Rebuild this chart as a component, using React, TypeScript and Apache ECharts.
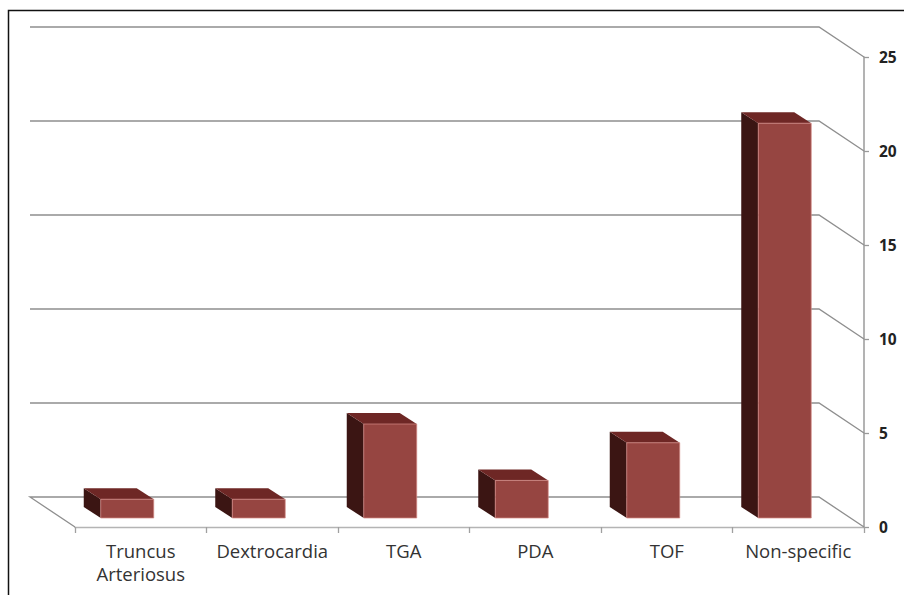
import React, { useEffect, useRef } from "react";
import * as echarts from "echarts";

// Congenital heart defect categories and case counts
const categories = ["Truncus\nArteriosus", "Dextrocardia", "TGA", "PDA", "TOF", "Non-specific"];
const cases = [1, 1, 5, 2, 4, 21];
const yTicks = [0, 5, 10, 15, 20, 25];

// Perspective offsets for the pseudo-3D floor, walls and columns (px)
const WALL_DX = 45;
const WALL_DY = 30;
const BAR_DX = 17;
const BAR_DY = 11;
const BAR_FRONT_DX = 13.5;
const BAR_FRONT_DY = 9;

const FRONT = "#964541";
const TOP = "#6e2725";
const SIDE = "#3b1513";
const GRID = "#8e8e8e";

export default function App() {
  const ref = useRef<HTMLDivElement>(null);

  useEffect(() => {
    if (!ref.current) return;
    const chart = echarts.init(ref.current, undefined, { renderer: "svg" });

    const renderGrid = (params: any, api: any) => {
      const cs = params.coordSys;
      const v = api.value(1);
      const y = api.coord([0, v])[1];
      const left = cs.x;
      const right = cs.x + cs.width;
      const pts: number[][] =
        v === 0
          ? [
              [left, y],
              [left - WALL_DX, y - WALL_DY],
              [right - WALL_DX, y - WALL_DY],
              [right, y],
            ]
          : [
              [left - WALL_DX, y - WALL_DY],
              [right - WALL_DX, y - WALL_DY],
              [right, y],
            ];
      return {
        type: "polyline",
        shape: { points: pts },
        style: { stroke: GRID, lineWidth: 1.3, fill: "none" },
        silent: true,
      };
    };

    const renderBar = (params: any, api: any) => {
      const i = api.value(0);
      const v = api.value(1);
      const base = api.coord([i, 0]);
      const topPt = api.coord([i, v]);
      const band = api.size([1, 0])[0];
      const w = band * 0.403;
      const cx = base[0] - BAR_FRONT_DX;
      const x0 = cx - w / 2;
      const x1 = cx + w / 2;
      const yb = base[1] - BAR_FRONT_DY;
      const yt = topPt[1] - BAR_FRONT_DY;
      return {
        type: "group",
        children: [
          {
            type: "polygon",
            shape: {
              points: [
                [x0, yt],
                [x0 - BAR_DX, yt - BAR_DY],
                [x0 - BAR_DX, yb - BAR_DY],
                [x0, yb],
              ],
            },
            style: { fill: SIDE },
          },
          {
            type: "polygon",
            shape: {
              points: [
                [x0, yt],
                [x0 - BAR_DX, yt - BAR_DY],
                [x1 - BAR_DX, yt - BAR_DY],
                [x1, yt],
              ],
            },
            style: { fill: TOP },
          },
          {
            type: "rect",
            shape: { x: x0, y: yt, width: w, height: yb - yt },
            style: { fill: FRONT, stroke: "rgba(214,140,136,0.7)", lineWidth: 1 },
          },
        ],
      };
    };

    chart.setOption({
      animation: false,
      backgroundColor: "#ffffff",
      grid: { left: 75, right: 40, top: 57, bottom: 68, containLabel: false },
      graphic: [
        {
          type: "rect",
          shape: { x: 8.5, y: 10.5, width: 1000, height: 1000 },
          style: { fill: "none", stroke: "#111", lineWidth: 1.5 },
          silent: true,
          z: 100,
        },
      ],
      xAxis: {
        type: "category",
        data: categories,
        boundaryGap: true,
        axisLine: { show: true, lineStyle: { color: "#b4b4b4", width: 1.3 } },
        axisTick: { show: true, length: 6, interval: 0, lineStyle: { color: "#a0a0a0", width: 1.3 } },
        axisLabel: {
          interval: 0,
          margin: 12,
          fontFamily: "Open Sans",
          fontSize: 18.5,
          lineHeight: 23,
          color: "#333333",
        },
        splitLine: { show: false },
      },
      yAxis: {
        type: "value",
        position: "right",
        min: 0,
        max: 25,
        interval: 5,
        axisLine: { show: true, lineStyle: { color: "#9a9a9a", width: 1.5 } },
        axisTick: { show: true, length: 5, lineStyle: { color: "#9a9a9a", width: 1.3 } },
        axisLabel: {
          margin: 15,
          fontFamily: "Open Sans",
          fontWeight: "bold",
          fontSize: 15.5,
          color: "#222",
        },
        splitLine: { show: false },
      },
      series: [
        {
          type: "custom",
          name: "grid",
          renderItem: renderGrid,
          data: yTicks.map((v) => [0, v]),
          clip: false,
          silent: true,
          z: 1,
        },
        {
          type: "custom",
          name: "Cases",
          renderItem: renderBar,
          data: cases.map((v, i) => [i, v]),
          clip: false,
          z: 5,
        },
      ],
    });

    return () => chart.dispose();
  }, []);

  return (
    <div
      ref={ref}
      style={{ position: "absolute", left: 0, top: 0, width: 904, height: 595, background: "#fff" }}
    />
  );
}
